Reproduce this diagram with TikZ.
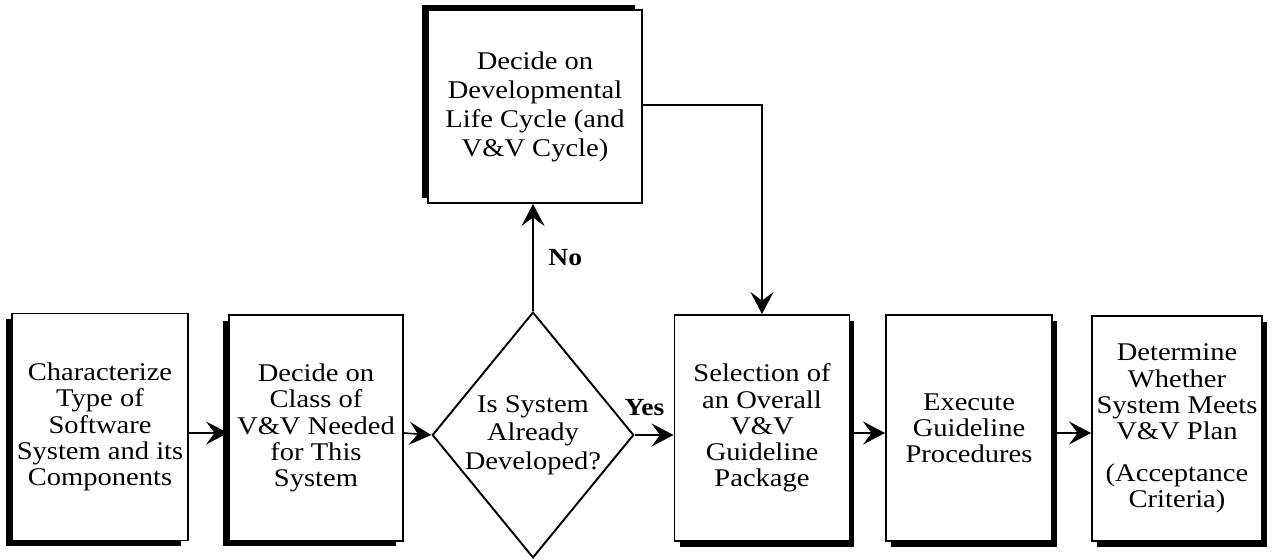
\documentclass[tikz,border=0pt]{standalone}
\usepackage{fontspec}
\setmainfont[FakeStretch=1.12]{Liberation Serif}
\usetikzlibrary{arrows.meta,shapes.geometric,shadows}
\begin{document}
\begin{tikzpicture}[x=0.02cm,y=-0.02cm,
  txt/.style={font=\fontsize{14.5}{14.9}\selectfont, align=center},
  box/.style={txt, draw, line width=1.1pt, fill=white, inner sep=0pt},
  shLD/.style={drop shadow={shadow xshift=-0.13cm, shadow yshift=-0.11cm, opacity=1, fill=black}},
  shLU/.style={drop shadow={shadow xshift=-0.13cm, shadow yshift=0.1cm, opacity=1, fill=black}},
  shRD/.style={drop shadow={shadow xshift=0.1cm, shadow yshift=-0.12cm, opacity=1, fill=black}},
  arr/.style={-{Stealth[length=0.44cm,width=0.46cm,inset=0.17cm]}, line width=0.9pt},
  lbl/.style={font=\bfseries\fontsize{14}{15}\selectfont}
]
\useasboundingbox (0,0) rectangle (1273,560);
\node[box, shLD, minimum width=3.52cm, minimum height=4.54cm] (A) at (100,427) {Characterize\\Type of\\Software\\System and its\\Components};
\node[box, shLD, minimum width=3.48cm, minimum height=4.52cm] (B) at (316,428) {Decide on\\Class of\\V\&V Needed\\for This\\System};
\node[txt, draw, line width=1.1pt, shape=diamond, inner sep=0pt, aspect=0.82, minimum width=3.86cm, minimum height=4.72cm, font=\fontsize{14.5}{16.3}\selectfont] (D) at (533,435) {Is System\\Already\\Developed?};
\node[box, shLU, minimum width=4.28cm, minimum height=3.86cm, font=\fontsize{14.5}{16.5}\selectfont] (T) at (535,106.5) {Decide on\\Developmental\\Life Cycle (and\\V\&V Cycle)};
\node[box, shRD, minimum width=3.5cm, minimum height=4.52cm] (S) at (762,428) {Selection of\\an Overall\\V\&V\\Guideline\\Package};
\node[box, shRD, minimum width=3.32cm, minimum height=4.52cm] (E) at (969,428) {Execute\\Guideline\\Procedures};
\node[box, shRD, minimum width=3.4cm, minimum height=4.5cm] (F) at (1177,428.5) {Determine\\Whether\\System Meets\\V\&V Plan\\[9pt](Acceptance\\Criteria)};

\draw[arr] (A.east |- 0,433) -- (B.west |- 0,433);
\draw[arr] (B.east |- 0,433) -- (D.west);
\draw[arr] (D.east) -- (S.west |- D.east) node[lbl, pos=0.25, above=7pt] {Yes};
\draw[arr] (S.east |- 0,433) -- (E.west |- 0,433);
\draw[arr] (E.east |- 0,433) -- (F.west |- 0,433);
\draw[arr] (D.north) -- (D.north |- T.south) node[lbl, pos=0.5, right=5pt] {No};
\draw[arr] (T.east |- 0,105) -| (S.north);
\end{tikzpicture}
\end{document}
